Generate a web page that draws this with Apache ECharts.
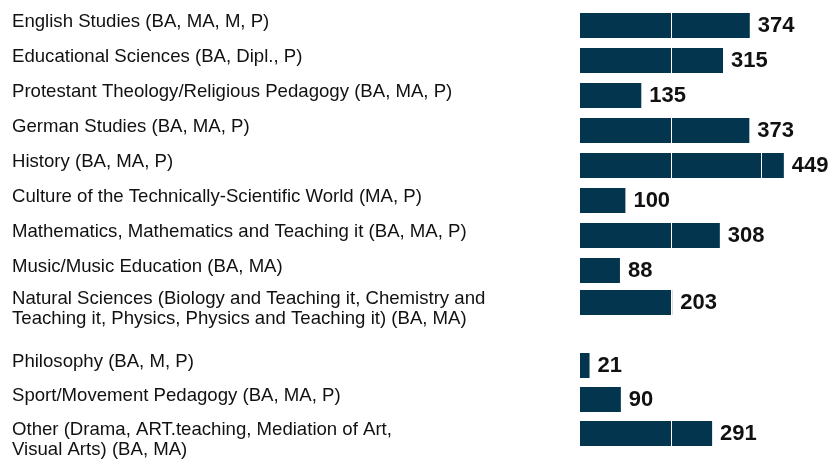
<!DOCTYPE html>
<html>
<head>
<meta charset="utf-8">
<script src="https://cdn.jsdelivr.net/npm/echarts@6/dist/echarts.min.js"></script>
<style>html,body{margin:0;padding:0;background:#fff;}#chart{width:830px;height:465px;}</style>
</head>
<body>
<div id="chart"></div>
<script>
const categories = [
  "English Studies (BA, MA, M, P)",
  "Educational Sciences (BA, Dipl., P)",
  "Protestant Theology/Religious Pedagogy (BA, MA, P)",
  "German Studies (BA, MA, P)",
  "History (BA, MA, P)",
  "Culture of the Technically-Scientific World (MA, P)",
  "Mathematics, Mathematics and Teaching it (BA, MA, P)",
  "Music/Music Education (BA, MA)",
  "Natural Sciences (Biology and Teaching it, Chemistry and\nTeaching it, Physics, Physics and Teaching it) (BA, MA)",
  "Philosophy (BA, M, P)",
  "Sport/Movement Pedagogy (BA, MA, P)",
  "Other (Drama, ART.teaching, Mediation of Art,\nVisual Arts) (BA, MA)"
];
const values = [374, 315, 135, 373, 449, 100, 308, 88, 203, 21, 90, 291];
const gridLineTicks = [0, 200, 400];

// layout: [fromIndex, toIndex, top, height]
const bands = [[0, 8, 8, 280], [8, 9, 285, 35], [9, 12, 348.5, 102]];
const FONT = 'Arial, "Liberation Sans", sans-serif';
const BAR = '#03354e';
const RIGHT_LIMIT = 829;

const grid = [], xAxis = [], yAxis = [], series = [];
bands.forEach((b, i) => {
  const cats = categories.slice(b[0], b[1]);
  const vals = values.slice(b[0], b[1]);
  grid.push({ left: 580, width: 227, top: b[2], height: b[3] });
  xAxis.push({
    gridIndex: i, type: 'value', min: gridLineTicks[0], max: 500, interval: gridLineTicks[1] - gridLineTicks[0],
    z: 3,
    axisLabel: { show: false }, axisTick: { show: false }, axisLine: { show: false },
    splitLine: { show: true, showMinLine: false, showMaxLine: false, lineStyle: { color: '#ffffff', width: 1 } }
  });
  yAxis.push({
    gridIndex: i, type: 'category', data: cats, inverse: true,
    axisLabel: { show: false }, axisTick: { show: false }, axisLine: { show: false }, splitLine: { show: false }
  });
  series.push({
    type: 'bar', xAxisIndex: i, yAxisIndex: i, data: vals, barWidth: 25, silent: true,
    itemStyle: { color: BAR }, z: 2
  });
  series.push({
    type: 'bar', xAxisIndex: i, yAxisIndex: i, data: vals, barWidth: 25, barGap: '-100%', silent: true,
    itemStyle: { color: 'rgba(0,0,0,0)' },
    label: {
      show: true, position: [-568, -1.5], align: 'left', verticalAlign: 'top',
      formatter: '{b}', fontFamily: FONT, fontSize: 18.6, lineHeight: 20.5, color: '#111'
    },
    z: 5
  });
  series.push({
    type: 'bar', xAxisIndex: i, yAxisIndex: i, data: vals, barWidth: 25, barGap: '-100%', silent: true,
    itemStyle: { color: 'rgba(0,0,0,0)' },
    label: {
      show: true, position: 'right', distance: 8,
      fontFamily: FONT, fontSize: 22, fontWeight: 'bold', color: '#111'
    },
    labelLayout: function (p) {
      const over = p.labelRect.x + p.labelRect.width - RIGHT_LIMIT;
      return over > 0 ? { dx: -over } : {};
    },
    z: 5
  });
});

const chart = echarts.init(document.getElementById('chart'), null, { renderer: 'canvas' });
chart.setOption({ animation: false, backgroundColor: '#ffffff', grid, xAxis, yAxis, series });
</script>
</body>
</html>
